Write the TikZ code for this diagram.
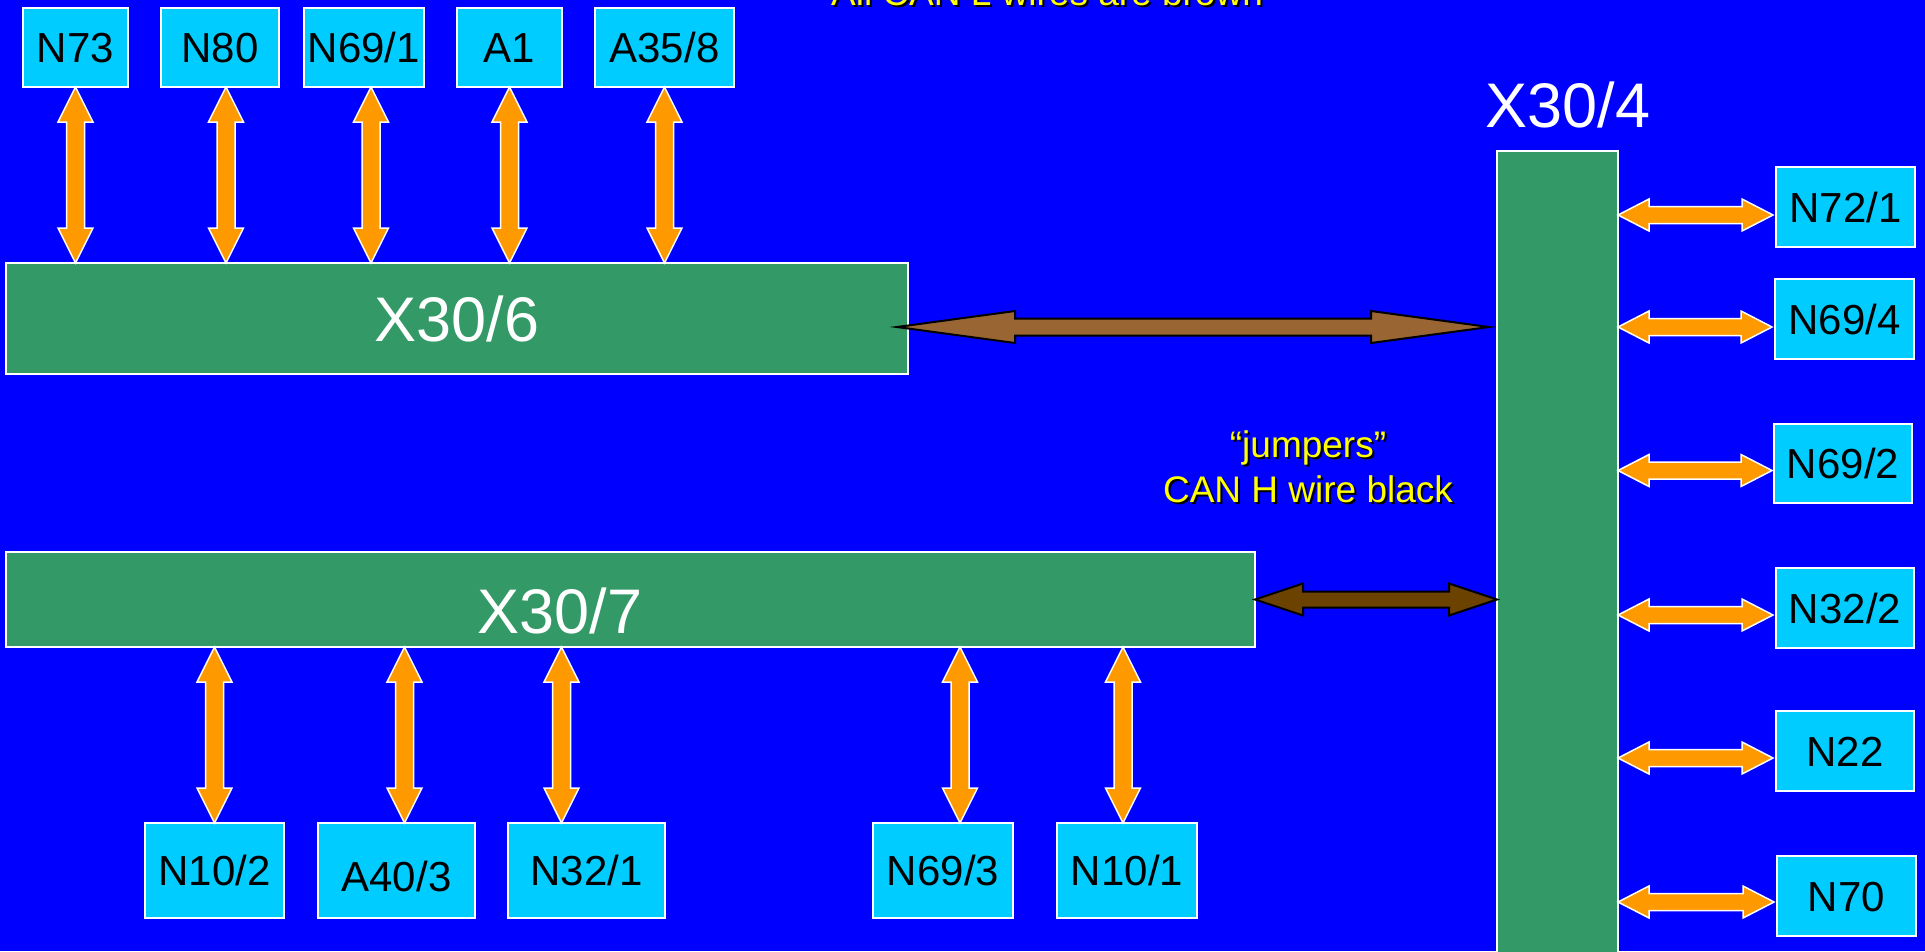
\documentclass[tikz,border=0pt]{standalone}
\usepackage{fontspec}
\setmainfont{Liberation Sans}
\usetikzlibrary{calc}
\definecolor{bgblue}{HTML}{0000FF}
\definecolor{busgreen}{HTML}{339966}
\definecolor{ecucyan}{HTML}{00CCFF}
\definecolor{canorange}{HTML}{FF9900}
\definecolor{canbrown}{HTML}{996633}
\definecolor{darkbrown}{HTML}{6B4200}
\definecolor{noteyellow}{HTML}{FFFF00}
\tikzset{
 ecu/.style={draw=white, line width=1.5pt, fill=ecucyan, anchor=north west, inner sep=0pt, outer sep=0pt,
   text height=30pt, text depth=0pt, font=\fontsize{42}{48}\selectfont, text=black},
 bus/.style={draw=white, line width=1.5pt, fill=busgreen, anchor=north west, inner sep=0pt, outer sep=0pt},
 buslabel/.style={text=white, font=\fontsize{63}{70}\selectfont, inner sep=0pt, text height=45pt, text depth=0pt},
 orangewire/.style={draw=white, line width=1.5pt, fill=canorange},
 brownwire/.style={draw=black, line width=2pt, fill=canbrown},
 darkwire/.style={draw=black, line width=2pt, fill=darkbrown},
 note/.style={text=noteyellow, font=\fontsize{37}{45}\selectfont, inner sep=0pt, anchor=base},
 noteshadow/.style={note, text=black},
}
% vertical double arrow: #1 style, #2 top point, #3 bottom point, #4 x offset
\newcommand\vwire[4]{%
 \path[#1] let \p1=($(#2)+(#4pt,0pt)$), \p2=(#3) in
  (\x1,\y1) -- (\x1+17.5pt,\y1-35pt) -- (\x1+9pt,\y1-35pt) -- (\x1+9pt,\y2+35pt) -- (\x1+17.5pt,\y2+35pt)
  -- (\x1,\y2) -- (\x1-17.5pt,\y2+35pt) -- (\x1-9pt,\y2+35pt) -- (\x1-9pt,\y1-35pt) -- (\x1-17.5pt,\y1-35pt) -- cycle;}
% horizontal double arrow: #1 style, #2 left point, #3 right point, #4 y offset, #5 shaft half, #6 head half, #7 head length
\newcommand\hwire[7]{%
 \path[#1] let \p1=($(#2)+(0pt,#4pt)$), \p2=(#3) in
  (\x1,\y1) -- (\x1+#7pt,\y1+#6pt) -- (\x1+#7pt,\y1+#5pt) -- (\x2-#7pt,\y1+#5pt) -- (\x2-#7pt,\y1+#6pt)
  -- (\x2,\y1) -- (\x2-#7pt,\y1-#6pt) -- (\x2-#7pt,\y1-#5pt) -- (\x1+#7pt,\y1-#5pt) -- (\x1+#7pt,\y1-#6pt) -- cycle;}
\begin{document}
\begin{tikzpicture}[x=1pt,y=-1pt]
\useasboundingbox (0,0) rectangle (1925,951);
\clip (0,0) rectangle (1925,951);
\fill[bgblue] (0,0) rectangle (1925,951);

% top note (mostly cut off)
\node[noteshadow] (topnoteS) at (1049,7) {All CAN L wires are brown};
\node[note] (topnote) at (1047,5) {All CAN L wires are brown};

% top ECUs
\node[ecu, minimum width=105pt, minimum height=79pt] (n73) at (23,8) {N73};
\node[ecu, minimum width=118pt, minimum height=79pt] (n80) at (161,8) {N80};
\node[ecu, minimum width=120pt, minimum height=79pt] (n691) at (304,8) {N69/1};
\node[ecu, minimum width=105pt, minimum height=79pt] (na1) at (457,8) {A1};
\node[ecu, minimum width=139pt, minimum height=79pt] (na358) at (595,8) {A35/8};

% buses
\node[bus, minimum width=902pt, minimum height=111pt, buslabel] (x306) at (6,263) {X30/6};
\node[bus, minimum width=1249pt, minimum height=95pt] (x307) at (6,552) {};
\node[buslabel] (x307lab) at (560,611) {X30/7};
\node[bus, minimum width=121pt, minimum height=830pt] (x304) at (1497,151) {};
\node[buslabel] (x304lab) at (1568,104.5) {X30/4};

% right ECUs
\node[ecu, minimum width=139pt, minimum height=80pt] (n721) at (1776,167) {N72/1};
\node[ecu, minimum width=139pt, minimum height=80pt] (n694) at (1775,279) {N69/4};
\node[ecu, minimum width=138pt, minimum height=79pt] (n692) at (1774,424) {N69/2};
\node[ecu, minimum width=138pt, minimum height=80pt] (n322) at (1776,568) {N32/2};
\node[ecu, minimum width=138pt, minimum height=80pt] (n22) at (1776,711) {N22};
\node[ecu, minimum width=139pt, minimum height=80pt] (n70) at (1777,856) {N70};

% bottom ECUs
\node[ecu, minimum width=139pt, minimum height=95pt] (n102) at (145,823) {N10/2};
\node[ecu, minimum width=157pt, minimum height=95pt] (na403) at (318,823) {\raisebox{-6pt}{A40/3}};
\node[ecu, minimum width=157pt, minimum height=95pt] (n321) at (508,823) {N32/1};
\node[ecu, minimum width=140pt, minimum height=95pt] (n693) at (873,823) {N69/3};
\node[ecu, minimum width=140pt, minimum height=95pt] (n101) at (1057,823) {N10/1};

% jumpers note
\node[noteshadow] (jump1S) at (1310,459) {“jumpers”};
\node[note] (jump1) at (1308,457) {“jumpers”};
\node[noteshadow] (jump2S) at (1310,504) {CAN H wire black};
\node[note] (jump2) at (1308,502) {CAN H wire black};

% top wires
\vwire{orangewire}{n73.south}{x306.north}{0}
\vwire{orangewire}{n80.south}{x306.north}{6}
\vwire{orangewire}{n691.south}{x306.north}{7}
\vwire{orangewire}{na1.south}{x306.north}{0}
\vwire{orangewire}{na358.south}{x306.north}{0}

% bottom wires
\vwire{orangewire}{x307.south -| n102.north}{n102.north}{0}
\vwire{orangewire}{x307.south -| na403.north}{na403.north}{8}
\vwire{orangewire}{x307.south -| n321.north}{n321.north}{-25}
\vwire{orangewire}{x307.south -| n693.north}{n693.north}{17}
\vwire{orangewire}{x307.south -| n101.north}{n101.north}{-4}

% right wires
\hwire{orangewire}{x304.east |- n721.west}{$(n721.west)+(-3pt,0pt)$}{-8}{8.5}{16}{31}
\hwire{orangewire}{x304.east |- n694.west}{$(n694.west)+(-3pt,0pt)$}{-8}{8.5}{16}{31}
\hwire{orangewire}{x304.east |- n692.west}{$(n692.west)+(-2pt,0pt)$}{-7}{8.5}{16}{31}
\hwire{orangewire}{x304.east |- n322.west}{$(n322.west)+(-3pt,0pt)$}{-7}{8.5}{16}{31}
\hwire{orangewire}{x304.east |- n22.west}{$(n22.west)+(-3pt,0pt)$}{-7}{8.5}{16}{31}
\hwire{orangewire}{x304.east |- n70.west}{$(n70.west)+(-3pt,0pt)$}{-6}{8.5}{16}{31}

% bus links
\hwire{brownwire}{$(x306.east)+(-11pt,-8.5pt)$}{$(x304.west)+(-8pt,0pt)$}{0}{8.5}{16}{118}
\hwire{darkwire}{x307.east}{x304.west}{0}{8}{16}{48}
\end{tikzpicture}
\end{document}
